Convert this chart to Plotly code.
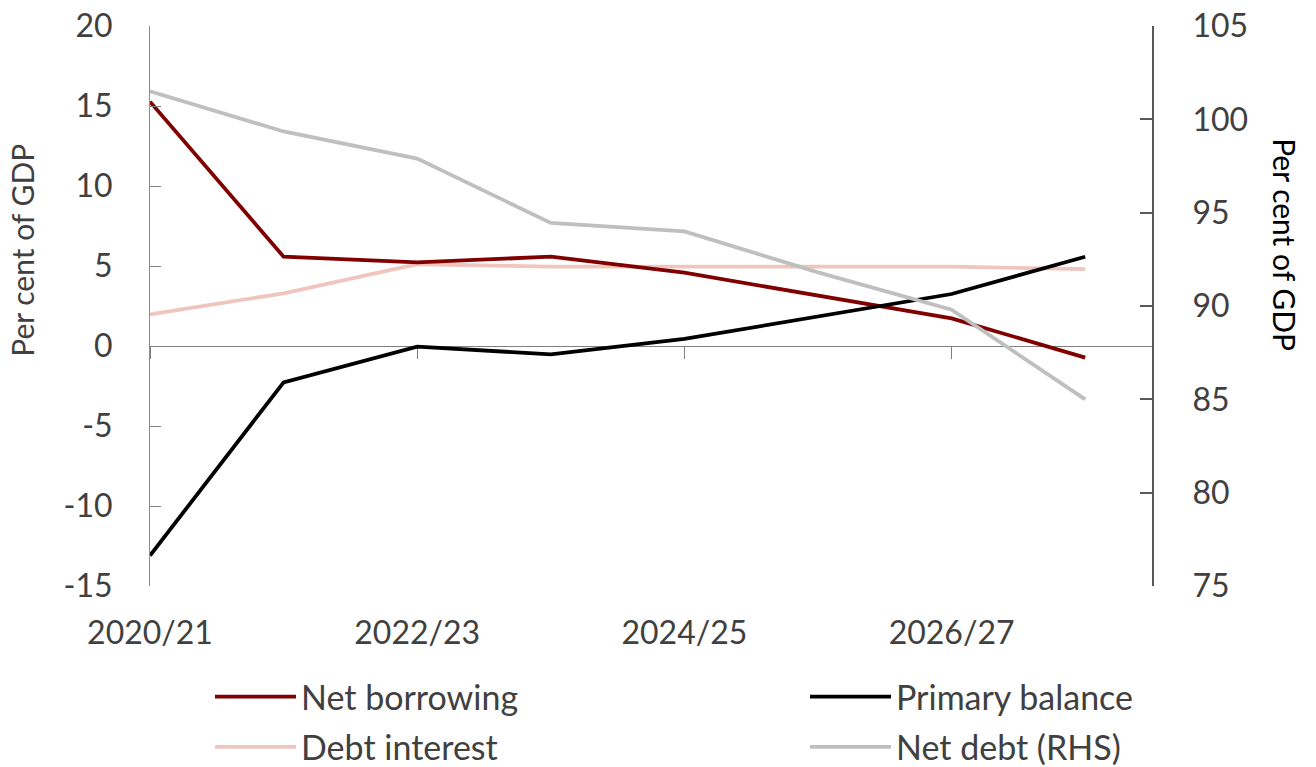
import plotly.graph_objects as go

years = ["2020/21", "2021/22", "2022/23", "2023/24", "2024/25", "2025/26", "2026/27", "2027/28"]
net_borrowing = [15.27, 5.58, 5.23, 5.58, 4.58, 3.16, 1.73, -0.73]
primary_balance = [-13.1, -2.27, -0.04, -0.52, 0.44, 1.84, 3.25, 5.58]
debt_interest = [1.98, 3.29, 5.11, 4.96, 4.96, 4.96, 4.96, 4.81]
net_debt = [101.5, 99.35, 97.9, 94.45, 94.0, 91.8, 89.8, 85.0]
left_ticks = [-15, -10, -5, 0, 5, 10, 15, 20]
left_tick_text = ["-15", "-10", "-5", "0", "5", "10", "15", "20"]
right_ticks = [75, 80, 85, 90, 95, 100, 105]
x_tick_labels = ["2020/21", "2022/23", "2024/25", "2026/27"]

FONT = "Lato"
TXT = "#404040"
LW = 3.8
TICK_SIZE = 32
LEG_SIZE = 34

fig = go.Figure()
fig.add_trace(go.Scatter(x=years, y=debt_interest, name="Debt interest", mode="lines",
                         line=dict(color="#EFC5BE", width=LW), legend="legend",
                         legendgroup="di", legendrank=2))
fig.add_trace(go.Scatter(x=years, y=net_borrowing, name="Net borrowing", mode="lines",
                         line=dict(color="#800000", width=LW), legend="legend",
                         legendgroup="nb", legendrank=1))
fig.add_trace(go.Scatter(x=years, y=primary_balance, name="Primary balance", mode="lines",
                         line=dict(color="#000000", width=LW), legend="legend2",
                         legendgroup="pb", legendrank=1))
fig.add_trace(go.Scatter(x=years, y=net_debt, name="Net debt (RHS)", mode="lines",
                         xaxis="x2", yaxis="y2",
                         line=dict(color="#BFBFBF", width=LW), legend="legend2",
                         legendgroup="nd", legendrank=2))

fig.update_layout(
    width=1316, height=767,
    margin=dict(l=150, r=164, t=26, b=181, autoexpand=False),
    paper_bgcolor="white", plot_bgcolor="white",
    font=dict(family=FONT, size=TICK_SIZE, color=TXT),
    showlegend=True,
    xaxis=dict(type="category", categoryorder="array", categoryarray=years,
               range=[0, 7.5], tickmode="array", tickvals=x_tick_labels,
               showline=False, ticks="", showgrid=False, zeroline=False,
               tickangle=0, ticklabelstandoff=25, tickfont=dict(size=TICK_SIZE, color=TXT)),
    xaxis2=dict(type="category", categoryorder="array", categoryarray=years,
                range=[0, 7.5], overlaying="x", anchor="free",
                position=15 / 35, tickmode="array", tickvals=x_tick_labels,
                showticklabels=False, showline=True, linecolor="#7f7f7f", linewidth=1,
                ticks="outside", ticklen=12, tickcolor="#7f7f7f", tickwidth=1,
                showgrid=False, zeroline=False, layer="below traces"),
    yaxis=dict(range=[-15, 20], tickmode="array", tickvals=left_ticks, ticktext=left_tick_text,
               showline=True, linecolor="#8c8c8c", linewidth=1,
               ticks="inside", ticklen=11, tickcolor="#7f7f7f", tickwidth=1,
               showgrid=False, zeroline=False, ticklabelstandoff=30,
               tickfont=dict(size=TICK_SIZE, color=TXT)),
    yaxis2=dict(range=[75, 105], overlaying="y", side="right", anchor="x2", tickmode="array",
                tickvals=right_ticks, showline=True, linecolor="#595959", linewidth=2,
                ticks="inside", ticklen=12, tickcolor="#595959", tickwidth=2,
                showgrid=False, zeroline=False, ticklabelstandoff=32,
                tickfont=dict(size=TICK_SIZE, color=TXT)),
    legend=dict(orientation="v", xref="container", yref="container",
                x=210 / 1316, y=1 - 668 / 767, xanchor="left", yanchor="top",
                traceorder="grouped", tracegroupgap=3, itemwidth=81,
                font=dict(size=LEG_SIZE, color=TXT, family=FONT), bgcolor="rgba(0,0,0,0)"),
    legend2=dict(orientation="v", xref="container", yref="container",
                 x=805 / 1316, y=1 - 668 / 767, xanchor="left", yanchor="top",
                 traceorder="grouped", tracegroupgap=3, itemwidth=81,
                 font=dict(size=LEG_SIZE, color=TXT, family=FONT), bgcolor="rgba(0,0,0,0)"),
    annotations=[
        dict(text="Per cent of GDP", xref="paper", yref="paper", x=-0.128, y=0.60,
             xanchor="center", yanchor="middle", textangle=-90, showarrow=False,
             font=dict(size=30, color=TXT, family=FONT)),
        dict(text="Per cent of GDP", xref="paper", yref="paper", x=1.132, y=0.61,
             xanchor="center", yanchor="middle", textangle=90, showarrow=False,
             font=dict(size=30, color="#000000", family=FONT)),
    ],
)

fig.write_html("out.html")
